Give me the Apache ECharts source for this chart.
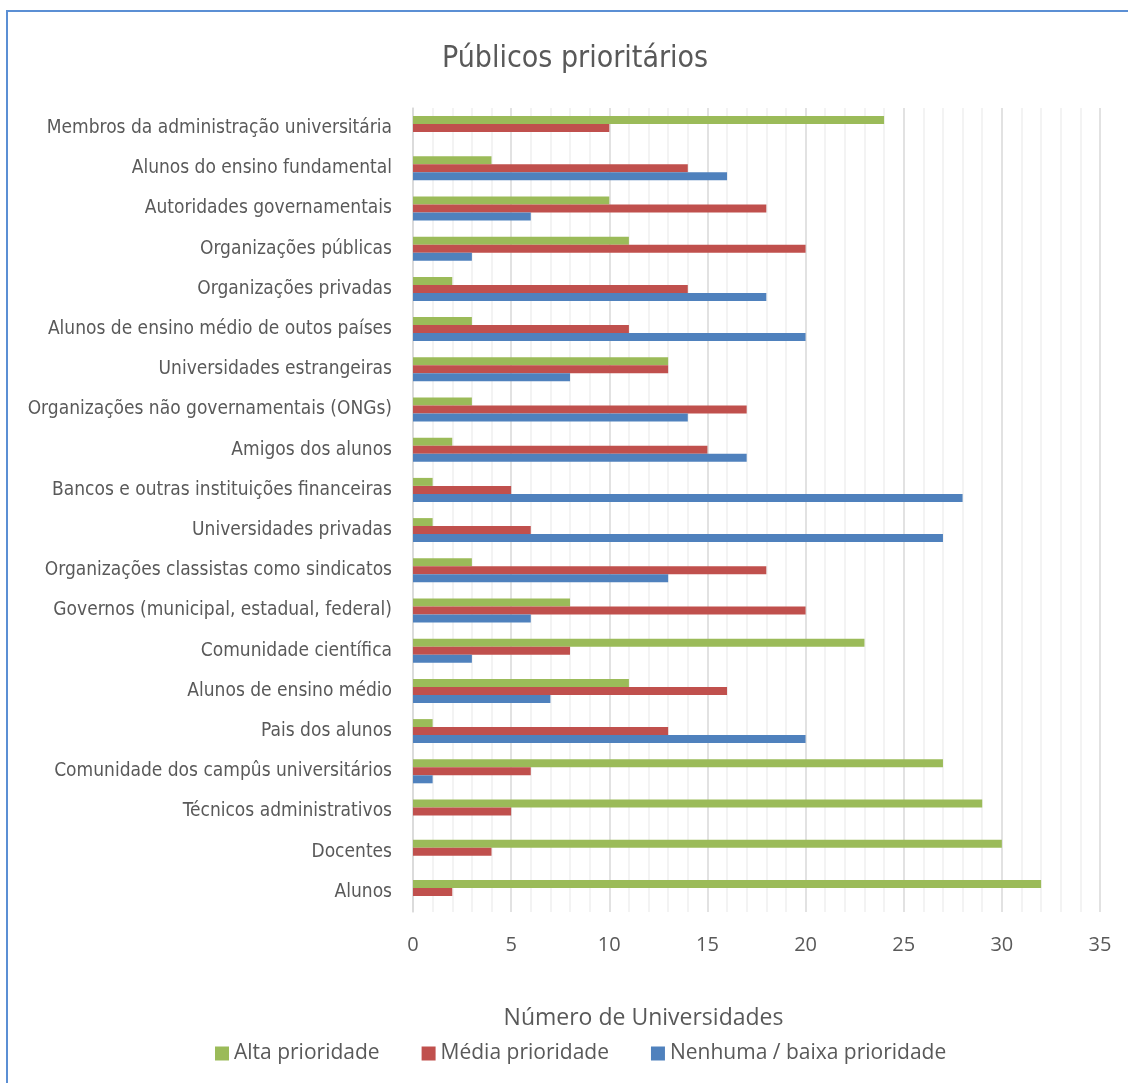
<!DOCTYPE html>
<html>
<head>
<meta charset="utf-8">
<title>Públicos prioritários</title>
<script src="https://cdn.jsdelivr.net/npm/echarts@6/dist/echarts.min.js"></script>
<style>
  html, body { margin: 0; padding: 0; background: #fff; }
  #chart { width: 1128px; height: 1083px; }
</style>
</head>
<body>
<div id="chart"></div>
<script>
// categorias, de cima para baixo como no gráfico
const categories = [
  "Membros da administração universitária",
  "Alunos do ensino fundamental",
  "Autoridades governamentais",
  "Organizações públicas",
  "Organizações privadas",
  "Alunos de ensino médio de outos países",
  "Universidades estrangeiras",
  "Organizações não governamentais (ONGs)",
  "Amigos dos alunos",
  "Bancos e outras instituições financeiras",
  "Universidades privadas",
  "Organizações classistas como sindicatos",
  "Governos (municipal, estadual, federal)",
  "Comunidade científica",
  "Alunos de ensino médio",
  "Pais dos alunos",
  "Comunidade dos campûs universitários",
  "Técnicos administrativos",
  "Docentes",
  "Alunos"
];

const alta = [24, 4, 10, 11, 2, 3, 13, 3, 2, 1, 1, 3, 8, 23, 11, 1, 27, 29, 30, 32];
const media = [10, 14, 18, 20, 14, 11, 13, 17, 15, 5, 6, 18, 20, 8, 16, 13, 6, 5, 4, 2];
const nenhuma = [0, 16, 6, 3, 18, 20, 8, 14, 17, 28, 27, 13, 6, 3, 7, 20, 1, 0, 0, 0];

const xTicks = { min: 0, max: 35, interval: 5 };

const labelFont = "'Liberation Sans Narrow', 'DejaVu Sans Condensed', sans-serif";
const textGray = "#595959";

const myChart = echarts.init(document.getElementById("chart"));

const mkSeries = (name, data, color) => ({
  name: name,
  type: "bar",
  data: data,
  barWidth: 8,
  barGap: "0%",
  itemStyle: { color: color },
  emphasis: { disabled: true }
});

const option = {
  animation: false,
  title: {
    text: "Públicos prioritários",
    left: 437,
    top: 39,
    textStyle: {
      fontFamily: labelFont,
      fontSize: 30,
      fontWeight: "normal",
      color: textGray
    }
  },
  legend: {
    bottom: 14,
    left: 210,
    itemWidth: 14,
    itemHeight: 14,
    itemGap: 42,
    icon: "rect",
    textStyle: {
      fontFamily: "'Open Sans', sans-serif",
      fontSize: 21,
      color: textGray
    },
    data: ["Alta prioridade", "Média prioridade", "Nenhuma / baixa prioridade"]
  },
  grid: {
    left: 413,
    right: 28,
    top: 108,
    bottom: 171
  },
  xAxis: {
    type: "value",
    min: xTicks.min,
    max: xTicks.max,
    interval: xTicks.interval,
    name: "Número de Universidades",
    nameLocation: "middle",
    nameGap: 95,
    nameTextStyle: {
      fontFamily: "'Open Sans', sans-serif",
      fontSize: 23,
      color: textGray,
      padding: [0, 226, 0, 0]
    },
    axisLine: { show: false },
    axisTick: { show: false },
    axisLabel: {
      margin: 23,
      fontFamily: "'Open Sans', sans-serif",
      fontSize: 20,
      color: textGray
    },
    splitLine: { show: true, lineStyle: { color: "#d9d9d9", width: 1.5 } },
    minorTick: { show: false, splitNumber: 5 },
    minorSplitLine: { show: true, lineStyle: { color: "#efefef", width: 1.5 } }
  },
  yAxis: {
    type: "category",
    inverse: true,
    data: categories,
    axisLine: { show: true, lineStyle: { color: "#d9d9d9", width: 1.5 } },
    axisTick: { show: false },
    axisLabel: {
      margin: 21,
      fontFamily: labelFont,
      fontSize: 19,
      color: textGray,
      padding: [6, 0, 0, 0]
    }
  },
  graphic: [
    {
      type: "rect",
      shape: { x: 7, y: 11, width: 1400, height: 1400 },
      style: { fill: "none", stroke: "#5b8fd4", lineWidth: 2 },
      silent: true
    }
  ],
  series: [
    mkSeries("Alta prioridade", alta, "#9bbb59"),
    mkSeries("Média prioridade", media, "#c0504d"),
    mkSeries("Nenhuma / baixa prioridade", nenhuma, "#4f81bd")
  ]
};

myChart.setOption(option);
</script>
</body>
</html>
